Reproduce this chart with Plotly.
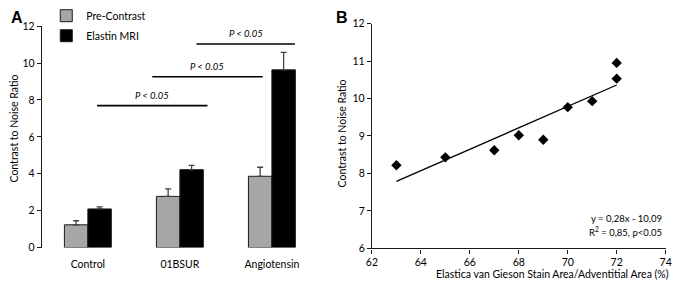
import plotly.graph_objects as go

# ---- Panel A data ----
categories = ["Control", "01BSUR", "Angiotensin"]
cat_pos = [0, 1, 2]
pre_contrast = [1.23, 2.77, 3.86]
pre_contrast_err = [0.22, 0.41, 0.49]
elastin_mri = [2.09, 4.22, 9.63]
elastin_mri_err = [0.11, 0.23, 0.95]
y_ticks_a = [0, 2, 4, 6, 8, 10, 12]

# significance bars (x from, x to, y level) in axis units
sig_x0 = [0.10, 0.70, 1.18]
sig_x1 = [1.30, 1.90, 2.25]
sig_y = [7.69, 9.26, 11.03]
sig_label = ["P < 0.05", "P < 0.05", "P < 0.05"]

# ---- Panel B data ----
evg_area = [63, 65, 67, 68, 69, 70, 71, 72, 72]
cnr = [8.22, 8.43, 8.62, 9.02, 8.90, 9.77, 9.93, 10.53, 10.95]
trend_x = [63, 72]
trend_y = [7.79, 10.36]
x_ticks_b = [62, 64, 66, 68, 70, 72, 74]
y_ticks_b = [6, 7, 8, 9, 10, 11, 12]
eq_text = ["y = 0,28x - 10,09", "R<sup>2</sup> = 0,85, p<0.05"]

FONT = "Lato"
W, H = 680, 288

fig = go.Figure()

fig.add_trace(go.Bar(
    x=cat_pos, y=pre_contrast, name="Pre-Contrast", legendgroup="a",
    marker=dict(color="#a6a6a6", line=dict(color="#1a1a1a", width=1)),
    error_y=dict(type="data", array=pre_contrast_err, symmetric=False,
                 arrayminus=[0, 0, 0], color="#404040", thickness=1.3, width=3),
    xaxis="x", yaxis="y",
))
fig.add_trace(go.Bar(
    x=cat_pos, y=elastin_mri, name="Elastin MRI", legendgroup="b",
    marker=dict(color="#000000", line=dict(color="#1a1a1a", width=1)),
    error_y=dict(type="data", array=elastin_mri_err, symmetric=False,
                 arrayminus=[0, 0, 0], color="#404040", thickness=1.3, width=3),
    xaxis="x", yaxis="y",
))

annotations = []
for x0, x1, yv, lab in zip(sig_x0, sig_x1, sig_y, sig_label):
    fig.add_trace(go.Scatter(
        x=[x0, x1], y=[yv, yv], mode="lines",
        line=dict(color="#000000", width=1.6),
        showlegend=False, hoverinfo="skip", xaxis="x", yaxis="y",
    ))
    annotations.append(dict(
        x=(x0 + x1) / 2, y=yv, xref="x", yref="y", text=f"<i>{lab}</i>",
        showarrow=False, yanchor="bottom", yshift=3,
        font=dict(family=FONT, size=9.5, color="#000"),
    ))

# Panel B
fig.add_trace(go.Scatter(
    x=evg_area, y=cnr, mode="markers",
    marker=dict(symbol="diamond", size=8, color="#000000"),
    showlegend=False, xaxis="x2", yaxis="y2",
))
fig.add_trace(go.Scatter(
    x=trend_x, y=trend_y, mode="lines",
    line=dict(color="#000000", width=1.3),
    showlegend=False, xaxis="x2", yaxis="y2",
))

annotations.append(dict(x=0.985, y=1 - 222 / H, xref="paper", yref="paper",
                        text=eq_text[0], xanchor="right", yanchor="middle",
                        showarrow=False, font=dict(family=FONT, size=9.5, color="#000")))
annotations.append(dict(x=0.985, y=1 - 235 / H, xref="paper", yref="paper",
                        text=eq_text[1], xanchor="right", yanchor="middle",
                        showarrow=False, font=dict(family=FONT, size=9.5, color="#000")))

# panel letters and axis titles
annotations += [
    dict(x=3 / W, y=1 - 1 / H, xref="paper", yref="paper", text="<b>A</b>",
         xanchor="left", yanchor="top", showarrow=False,
         font=dict(family="Liberation Sans", size=16, color="#000")),
    dict(x=334 / W, y=1 - 1 / H, xref="paper", yref="paper", text="<b>B</b>",
         xanchor="left", yanchor="top", showarrow=False,
         font=dict(family="Liberation Sans", size=16, color="#000")),
    dict(x=8 / W, y=1 - 128 / H, xref="paper", yref="paper",
         text="Contrast to Noise Ratio", textangle=-90, showarrow=False,
         xanchor="center", yanchor="middle",
         font=dict(family=FONT, size=10.5, color="#000")),
    dict(x=343 / W, y=1 - 133 / H, xref="paper", yref="paper",
         text="Contrast to Noise Ratio", textangle=-90, showarrow=False,
         xanchor="center", yanchor="middle",
         font=dict(family=FONT, size=10.5, color="#000")),
    dict(x=677 / W, y=1 - 280 / H, xref="paper", yref="paper",
         text="Elastica van Gieson Stain Area/Adventitial Area (%)",
         showarrow=False, xanchor="right", yanchor="middle",
         font=dict(family=FONT, size=10.5, color="#000")),
]

axis_common = dict(showgrid=False, zeroline=False, linecolor="#1a1a1a",
                   linewidth=1.2, tickfont=dict(family=FONT, size=10.5, color="#000"))

fig.update_layout(
    width=W, height=H,
    margin=dict(l=0, r=0, t=0, b=0),
    paper_bgcolor="white", plot_bgcolor="white",
    barmode="group", bargap=0.49, bargroupgap=0,
    showlegend=True,
    legend=dict(x=41 / W, y=1 + 5 / H, xanchor="left", yanchor="top",
                traceorder="grouped", tracegroupgap=1,
                font=dict(family=FONT, size=10.5, color="#000"),
                bgcolor="rgba(0,0,0,0)", itemwidth=30),
    annotations=annotations,
    xaxis=dict(domain=[36.5 / W, 317.5 / W], range=[-0.5, 2.5],
               tickvals=cat_pos, ticktext=categories, showline=False,
               ticks="", showgrid=False, zeroline=False, ticklabelstandoff=9,
               tickfont=dict(family=FONT, size=10.5, color="#000")),
    yaxis=dict(domain=[1 - 252 / H, 1 - 21 / H], range=[0, 12],
               tickvals=y_ticks_a, showline=True, ticks="outside",
               ticklen=4, tickcolor="#1a1a1a", **axis_common),
    xaxis2=dict(domain=[372.5 / W, 671.5 / W], range=[62, 74],
                tickvals=x_ticks_b, showline=True, ticks="outside",
                ticklen=4, tickcolor="#1a1a1a", anchor="y2", **axis_common),
    yaxis2=dict(domain=[1 - 253 / H, 1 - 18.3 / H], range=[6, 12],
                tickvals=y_ticks_b, showline=True, ticks="outside",
                ticklen=4, tickcolor="#1a1a1a", anchor="x2", **axis_common),
)

fig.write_html("out.html", config={"displayModeBar": False},
               post_script="document.body.style.margin='0';")
